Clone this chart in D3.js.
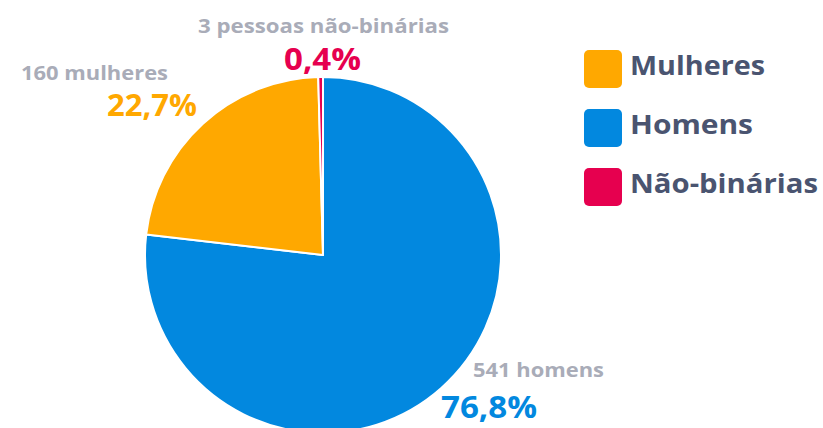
<!DOCTYPE html>
<html><head><meta charset="utf-8">
<script src="https://cdn.jsdelivr.net/npm/d3@7"></script>
<style>body{margin:0;background:#fff}svg{display:block}text{font-family:"Open Sans",sans-serif;font-weight:700}</style>
</head><body>
<svg id="c" width="823" height="428"></svg>
<script>
const categories = ["Homens", "Mulheres", "Não-binárias"];
const counts = [541, 160, 3];
const percentLabels = ["76,8%", "22,7%", "0,4%"];
const countLabels = ["541 homens", "160 mulheres", "3 pessoas não-binárias"];
const colors = ["#0288DF", "#FFA800", "#E6004F"];
const legendOrder = ["Mulheres", "Homens", "Não-binárias"];

const svg = d3.select("#c");
const cx = 323, cy = 255, r = 178;
const color = d3.scaleOrdinal().domain(categories).range(colors);
const pie = d3.pie().sort(null).value(d => d.v);
const arcs = pie(categories.map((c, i) => ({c, v: counts[i]})));
const arc = d3.arc().innerRadius(0).outerRadius(r);
svg.append("g").attr("transform", `translate(${cx},${cy})`)
  .selectAll("path").data(arcs).join("path")
  .attr("d", arc).attr("fill", d => color(d.data.c))
  .attr("stroke", "#fff").attr("stroke-width", 2).attr("stroke-linejoin", "round");

const labelPos = [
  {cx: 473, cy: 377, cw: 131, cs: 20, px: 441, py: 418, pw: 96, ps: 31},
  {cx: 21, cy: 80, cw: 147, cs: 20, px: 107, py: 116, pw: 90, ps: 31},
  {cx: 198, cy: 33, cw: 251, cs: 20, px: 284, py: 70, pw: 77, ps: 31}
];
categories.forEach((c, i) => {
  const p = labelPos[i];
  svg.append("text").attr("x", p.cx).attr("y", p.cy).attr("font-size", p.cs)
    .attr("fill", "#A9ACB8").attr("textLength", p.cw).attr("lengthAdjust", "spacingAndGlyphs")
    .text(countLabels[i]);
  svg.append("text").attr("x", p.px).attr("y", p.py).attr("font-size", p.ps)
    .attr("fill", color(c)).attr("textLength", p.pw).attr("lengthAdjust", "spacingAndGlyphs")
    .text(percentLabels[i]);
});

const legendW = [135, 123, 188];
const lg = svg.append("g");
legendOrder.forEach((c, i) => {
  const y = 50 + i * 59;
  lg.append("rect").attr("x", 584).attr("y", y).attr("width", 38).attr("height", 38)
    .attr("rx", 5).attr("fill", color(c));
  lg.append("text").attr("x", 630).attr("y", y + 25).attr("font-size", 27)
    .attr("fill", "#4A5470").attr("textLength", legendW[i]).attr("lengthAdjust", "spacingAndGlyphs")
    .text(c);
});
</script>
</body></html>
